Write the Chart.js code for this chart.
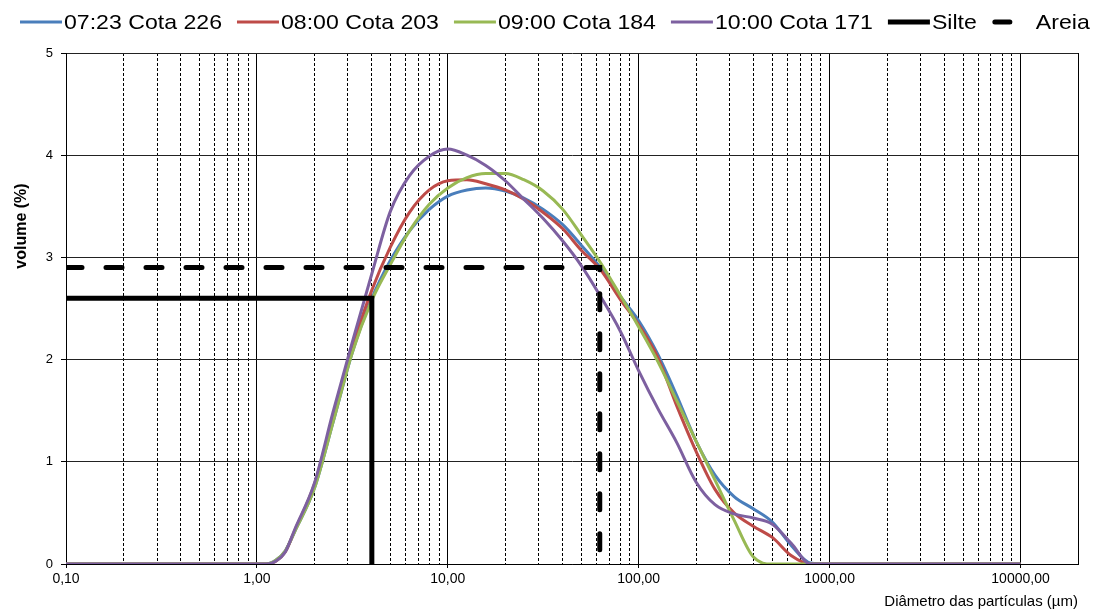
<!DOCTYPE html>
<html>
<head>
    <meta charset="utf-8">
    <title>Distribuição granulométrica</title>
    <style>
        body { margin: 0; background: #fff; }
    </style>
</head>
<body>
    <canvas id="myChart" width="1094" height="612"></canvas>
    <script src="https://cdn.jsdelivr.net/npm/chart.js"></script>
    <script>
        // particle diameters (µm)
        const sizes = [0.1, 1.0, 1.12, 1.26, 1.41, 1.58, 2, 2.5, 3.16, 4, 5, 6.3, 8, 10, 12.6, 15.8, 20, 25, 31.6, 40,
                       50, 63, 80, 100, 126, 158, 200, 251, 316, 398, 501, 631, 794, 1000, 10000];

        const cota226 = [0, 0, 0, 0.04, 0.13, 0.32, 0.74, 1.38, 2.07, 2.6, 2.97, 3.26, 3.47, 3.6, 3.66, 3.68, 3.65, 3.58, 3.47, 3.32,
                         3.12, 2.9, 2.62, 2.38, 2.05, 1.65, 1.2, 0.87, 0.66, 0.54, 0.41, 0.18, 0.01, 0, 0];
        const cota203 = [0, 0, 0, 0.03, 0.12, 0.33, 0.78, 1.44, 2.12, 2.68, 3.1, 3.44, 3.66, 3.75, 3.76, 3.72, 3.66, 3.57, 3.44, 3.28,
                         3.07, 2.88, 2.59, 2.34, 2.02, 1.55, 1.1, 0.73, 0.5, 0.37, 0.26, 0.08, 0, 0, 0];
        const cota184 = [0, 0, 0, 0.04, 0.13, 0.32, 0.74, 1.38, 2.07, 2.58, 2.93, 3.26, 3.52, 3.68, 3.78, 3.82, 3.82, 3.76, 3.65, 3.47,
                         3.22, 2.95, 2.63, 2.32, 1.98, 1.6, 1.2, 0.82, 0.43, 0.07, 0, 0, 0, 0, 0];
        const cota171 = [0, 0, 0, 0.03, 0.12, 0.34, 0.79, 1.48, 2.17, 2.84, 3.45, 3.8, 3.99, 4.06, 4.0, 3.9, 3.75, 3.57, 3.38, 3.16,
                         2.92, 2.62, 2.28, 1.89, 1.52, 1.19, 0.8, 0.58, 0.49, 0.45, 0.39, 0.2, 0, 0, 0];

        // class limits
        const silteX = [0.1, 4, 4];
        const silteY = [2.6, 2.6, 0];
        const areiaX = [0.1, 62.5, 62.5];
        const areiaY = [2.9, 2.9, 0];

        const xDecades = [0.1, 1, 10, 100, 1000, 10000];
        const xTickLabels = ['0,10', '1,00', '10,00', '100,00', '1000,00', '10000,00'];
        const xMax = 20000;

        const toPoints = (xs, ys) => xs.map((x, i) => ({x: x, y: ys[i]}));

        const isDecade = (v) => Math.abs(Math.log10(v) - Math.round(Math.log10(v))) < 1e-6;
        const isMajor = (v) => isDecade(v) || Math.abs(v - xMax) < 1e-6;

        const FONT = "'Liberation Sans', Arial, sans-serif";

        const curve = (label, color, ys, order) => ({
            label: label,
            data: toPoints(sizes, ys),
            borderColor: color,
            backgroundColor: color,
            borderWidth: 3,
            pointRadius: 0,
            showLine: true,
            cubicInterpolationMode: 'monotone',
            order: order
        });

        // y title sits above the middle, like the original
        const yTitle = {
            id: 'yTitle',
            afterDraw(chart) {
                const ctx = chart.ctx;
                ctx.save();
                ctx.translate(22, 226);
                ctx.rotate(-Math.PI / 2);
                ctx.font = 'bold 16px ' + FONT;
                ctx.fillStyle = '#000';
                ctx.textAlign = 'center';
                ctx.textBaseline = 'middle';
                ctx.fillText('volume (%)', 0, 0);
                ctx.restore();
            }
        };

        // legend in one row: long line sample, text right after it
        const topLegend = {
            id: 'topLegend',
            afterDraw(chart) {
                const ctx = chart.ctx;
                const sx = 1.1;
                const y = 22;
                let x = 20;
                ctx.save();
                ctx.font = '21px ' + FONT;
                chart.data.datasets.forEach((ds) => {
                    ctx.strokeStyle = ds.borderColor;
                    ctx.lineWidth = ds.borderWidth;
                    ctx.beginPath();
                    if (ds.borderDash) {
                        ctx.lineCap = 'round';
                        ctx.moveTo(x + 3, y);
                        ctx.lineTo(x + 18, y);
                    } else {
                        ctx.lineCap = 'butt';
                        ctx.moveTo(x, y);
                        ctx.lineTo(x + 42, y);
                    }
                    ctx.stroke();
                    x += 44;
                    ctx.save();
                    ctx.translate(x, y);
                    ctx.scale(sx, 1);
                    ctx.fillStyle = '#000';
                    ctx.textBaseline = 'middle';
                    ctx.fillText(ds.label, 0, 1);
                    ctx.restore();
                    x += ctx.measureText(ds.label).width * sx + 15;
                });
                ctx.restore();
            }
        };

        const config = {
            type: 'scatter',
            data: {
                datasets: [
                    curve('07:23 Cota 226', '#4a7ebb', cota226, 5),
                    curve('08:00 Cota 203', '#be4b48', cota203, 4),
                    curve('09:00 Cota 184', '#98b954', cota184, 3),
                    curve('10:00 Cota 171', '#7d60a0', cota171, 2),
                    {
                        label: 'Silte',
                        data: toPoints(silteX, silteY),
                        borderColor: '#000',
                        backgroundColor: '#000',
                        borderWidth: 5,
                        pointRadius: 0,
                        showLine: true,
                        order: 1
                    },
                    {
                        label: 'Areia',
                        data: toPoints(areiaX, areiaY),
                        borderColor: '#000',
                        backgroundColor: '#000',
                        borderWidth: 5,
                        borderDash: [16, 24],
                        borderCapStyle: 'round',
                        pointRadius: 0,
                        showLine: true,
                        order: 0
                    }
                ]
            },
            options: {
                responsive: false,
                animation: false,
                layout: { padding: { top: 53, right: 16, left: 0, bottom: 0 } },
                plugins: {
                    tooltip: { enabled: false },
                    legend: { display: false }
                },
                scales: {
                    x: {
                        type: 'logarithmic',
                        min: 0.1,
                        max: xMax,
                        afterFit: (scale) => { scale.height = 48; },
                        afterBuildTicks: (scale) => {
                            const t = [];
                            xDecades.forEach(d => {
                                for (let m = 1; m <= 9; m++) {
                                    if (d * m <= xMax + 1e-9) t.push({value: d * m});
                                }
                            });
                            scale.ticks = t;
                        },
                        ticks: {
                            autoSkip: false,
                            maxRotation: 0,
                            padding: 3,
                            color: '#000',
                            font: { family: FONT, size: 14 },
                            callback: (value) => {
                                const i = xDecades.findIndex(d => Math.abs(d - value) < d * 1e-6);
                                return i >= 0 ? xTickLabels[i] : '';
                            }
                        },
                        grid: {
                            color: '#000',
                            lineWidth: 1,
                            tickLength: 4,
                            tickColor: (c) => (c.tick && isDecade(c.tick.value)) ? '#000' : 'rgba(0,0,0,0)'
                        },
                        border: {
                            color: '#000',
                            width: 1,
                            dash: (c) => (c.tick && !isMajor(c.tick.value)) ? [3, 2] : []
                        },
                        title: {
                            display: true,
                            text: 'Diâmetro das partículas (µm)',
                            align: 'end',
                            color: '#000',
                            padding: { top: 0, bottom: 1 },
                            font: { family: FONT, size: 15 }
                        }
                    },
                    y: {
                        min: 0,
                        max: 5,
                        afterFit: (scale) => { scale.width = 66; },
                        ticks: {
                            stepSize: 1,
                            padding: 8,
                            color: '#000',
                            font: { family: FONT, size: 13 }
                        },
                        grid: {
                            color: '#222',
                            lineWidth: 1,
                            tickLength: 5,
                            tickColor: '#000'
                        },
                        border: { color: '#000', width: 1 }
                    }
                }
            },
            plugins: [yTitle, topLegend]
        };

        const myChart = new Chart(document.getElementById('myChart'), config);
    </script>
</body>
</html>
